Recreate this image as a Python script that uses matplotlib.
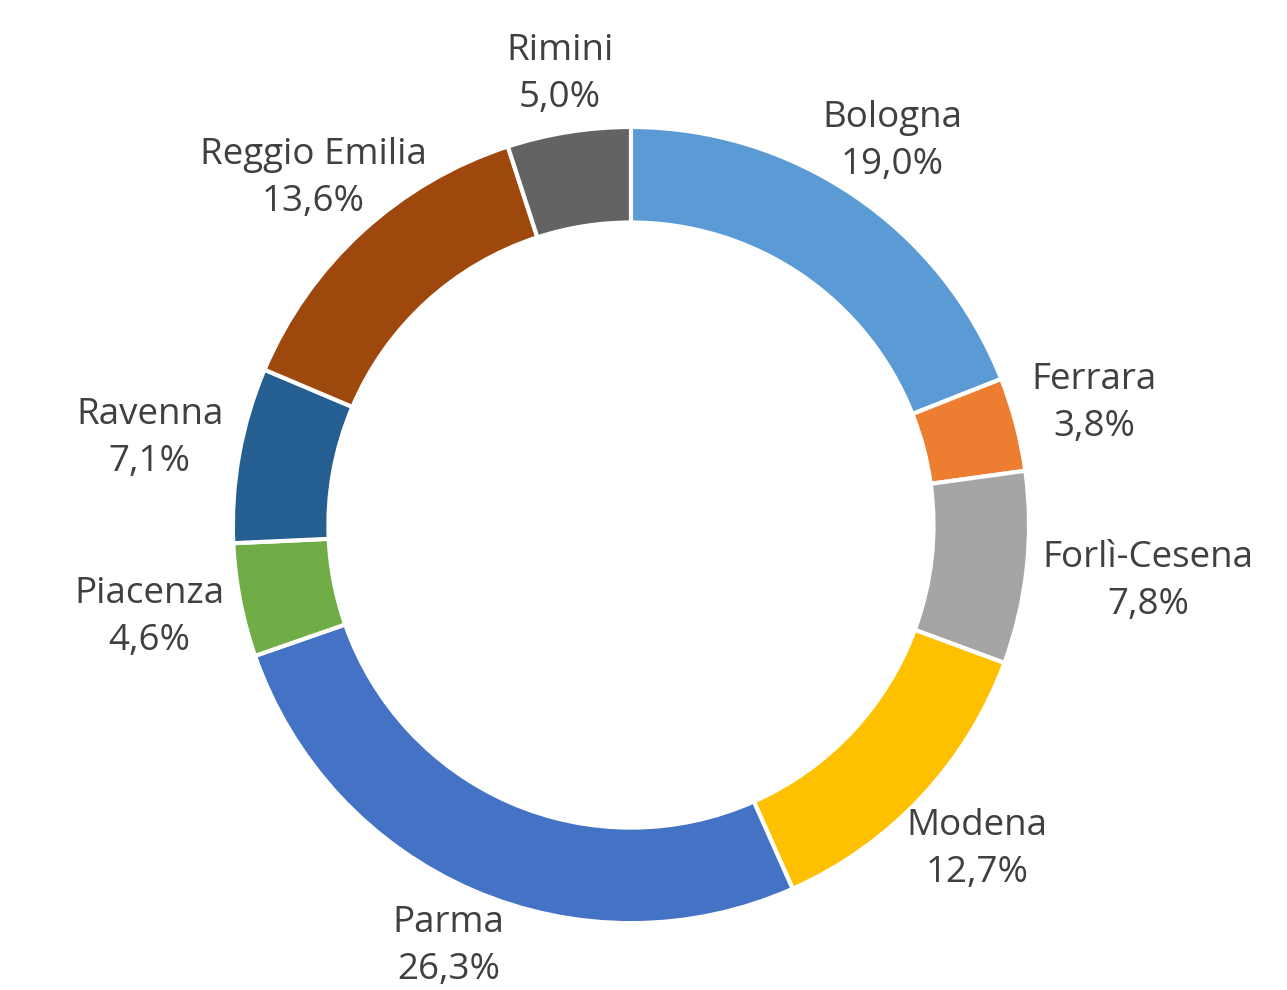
import numpy as np
import matplotlib
matplotlib.use('Agg')
import matplotlib.pyplot as plt

# share of each province (%)
provinces = ['Bologna', 'Ferrara', 'Forlì-Cesena', 'Modena', 'Parma',
             'Piacenza', 'Ravenna', 'Reggio Emilia', 'Rimini']
shares = [19.0, 3.8, 7.8, 12.7, 26.3, 4.6, 7.1, 13.6, 5.0]
colors = ['#5B9BD5', '#ED7D31', '#A5A5A5', '#FFC000', '#4472C4',
          '#70AD47', '#255E91', '#9E480E', '#636363']

fig = plt.figure(figsize=(12.87, 9.9), dpi=100)
ax = fig.add_axes([0, 0, 1, 1])

wedges, _ = ax.pie(shares, colors=colors, startangle=90, counterclock=False,
                   radius=1.0, wedgeprops=dict(width=0.24, edgecolor='white', linewidth=3))

ax.set_aspect('equal')
ax.set_xlim(-1.585, 1.648)
ax.set_ylim(-1.168, 1.319)
ax.axis('off')

fig.canvas.draw()
renderer = fig.canvas.get_renderer()
inv = ax.transData.inverted()

for w, name, val in zip(wedges, provinces, shares):
    ang = np.deg2rad((w.theta1 + w.theta2) / 2)
    txt = '%s\n%s%%' % (name, ('%.1f' % val).replace('.', ','))
    t = ax.text(0, 0, txt, ha='center', va='center', fontsize=26.5,
                color='#404040', linespacing=1.4, family='Open Sans')
    bb = t.get_window_extent(renderer)
    (x0, y0), (x1, y1) = inv.transform([[bb.x0, bb.y0], [bb.x1, bb.y1]])
    hw, hh = (x1 - x0) / 2, (y1 - y0) / 2
    c, s = abs(np.cos(ang)), abs(np.sin(ang))
    d = min(hw / c if c > 1e-6 else 1e9, hh / s if s > 1e-6 else 1e9)
    r = 1.04 + d
    t.set_position((r * np.cos(ang), r * np.sin(ang)))

plt.savefig('out.png', dpi=100, facecolor='white')
plt.close()
